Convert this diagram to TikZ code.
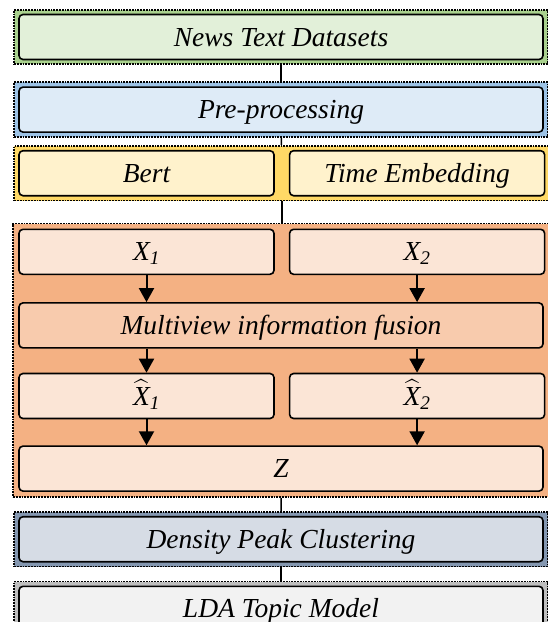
\documentclass[tikz,border=0pt]{standalone}
\usepackage{amsmath}
\usepackage{fontspec}
\setmainfont{Liberation Serif}
\usetikzlibrary{arrows.meta,positioning,fit,backgrounds}
\definecolor{newsin}{HTML}{E2F0D9}
\definecolor{newsband}{HTML}{A9D18E}
\definecolor{prein}{HTML}{DEEBF7}
\definecolor{preband}{HTML}{9DC3E6}
\definecolor{embin}{HTML}{FFF2CC}
\definecolor{embband}{HTML}{FFD966}
\definecolor{viewin}{HTML}{FBE5D6}
\definecolor{fusein}{HTML}{F8CBAD}
\definecolor{viewband}{HTML}{F4B183}
\definecolor{dpcin}{HTML}{D6DCE5}
\definecolor{dpcband}{HTML}{8497B0}
\definecolor{ldain}{HTML}{F2F2F2}
\definecolor{ldaband}{HTML}{BFBFBF}

\begin{document}
\begin{tikzpicture}[
        x=1pt, y=1pt,
        box/.style={rounded corners=4pt, draw=black, line width=1.6pt, minimum height=45pt, inner sep=2pt, text height=22pt, text depth=4pt, font=\fontsize{27.5}{32}\selectfont\itshape},
        wide/.style={box, minimum width=524pt},
        half/.style={box, minimum width=255pt},
        grp/.style={draw=black, densely dotted, line width=1.8pt, inner sep=4pt},
        link/.style={line width=1.6pt},
        arr/.style={-{Triangle[width=15pt,length=14pt]}, line width=2pt}
      ]
        \useasboundingbox (0,0) rectangle (547,-622);
        \node[wide, fill=newsin] (news) at (281,-37) {News Text Datasets};
        \node[wide, fill=prein, below=26pt of news] (pre) {Pre-processing};
        \node[half, fill=embin, below right=17pt and 0pt of pre.south west] (bert) {Bert};
        \node[half, fill=embin, right=14pt of bert] (time) {Time Embedding};
        \node[half, fill=viewin, below=32pt of bert] (xa) {X\textsubscript{1}};
        \node[half, fill=viewin, below=32pt of time] (xb) {X\textsubscript{2}};
        \node[wide, fill=fusein, below right=27pt and 0pt of xa.south west] (fuse) {Multiview information fusion};
        \node[half, fill=viewin, below right=24pt and 0pt of fuse.south west] (xha) {$\widehat{\text{\itshape X}}$\textsubscript{1}};
        \node[half, fill=viewin, right=14pt of xha] (xhb) {$\widehat{\text{\itshape X}}$\textsubscript{2}};
        \node[wide, fill=viewin, below right=26pt and 0pt of xha.south west] (z) {Z};
        \node[wide, fill=dpcin, below=24pt of z] (dpc) {Density Peak Clustering};
        \node[wide, fill=ldain, below=23pt of dpc] (lda) {LDA Topic Model};
        % dotted frames behind the boxes
        \begin{scope}[on background layer]
          \node[grp, fill=newsband, fit=(news)] (gnews) {};
          \node[grp, fill=preband, fit=(pre)] (gpre) {};
          \node[grp, fill=embband, fit=(bert)(time)] (gemb) {};
          \node[grp, fill=viewband, fit=(xa)(xb)(fuse)(z), inner sep=5pt] (gview) {};
          \node[grp, fill=dpcband, fit=(dpc)] (gdpc) {};
          \node[grp, fill=ldaband, fit=(lda)] (glda) {};
        \end{scope}
        \draw[link] (gnews) -- (gpre);
        \draw[link] (gpre) -- (gemb);
        \draw[link] (gemb) -- (gview);
        \draw[link] (gview) -- (gdpc);
        \draw[link] (gdpc) -- (glda);
        \draw[arr] (xa) -- (xa |- fuse.north);
        \draw[arr] (xb) -- (xb |- fuse.north);
        \draw[arr] (xa |- fuse.south) -- (xha);
        \draw[arr] (xb |- fuse.south) -- (xhb);
        \draw[arr] (xha) -- (xha |- z.north);
        \draw[arr] (xhb) -- (xhb |- z.north);
      \end{tikzpicture}
\end{document}
